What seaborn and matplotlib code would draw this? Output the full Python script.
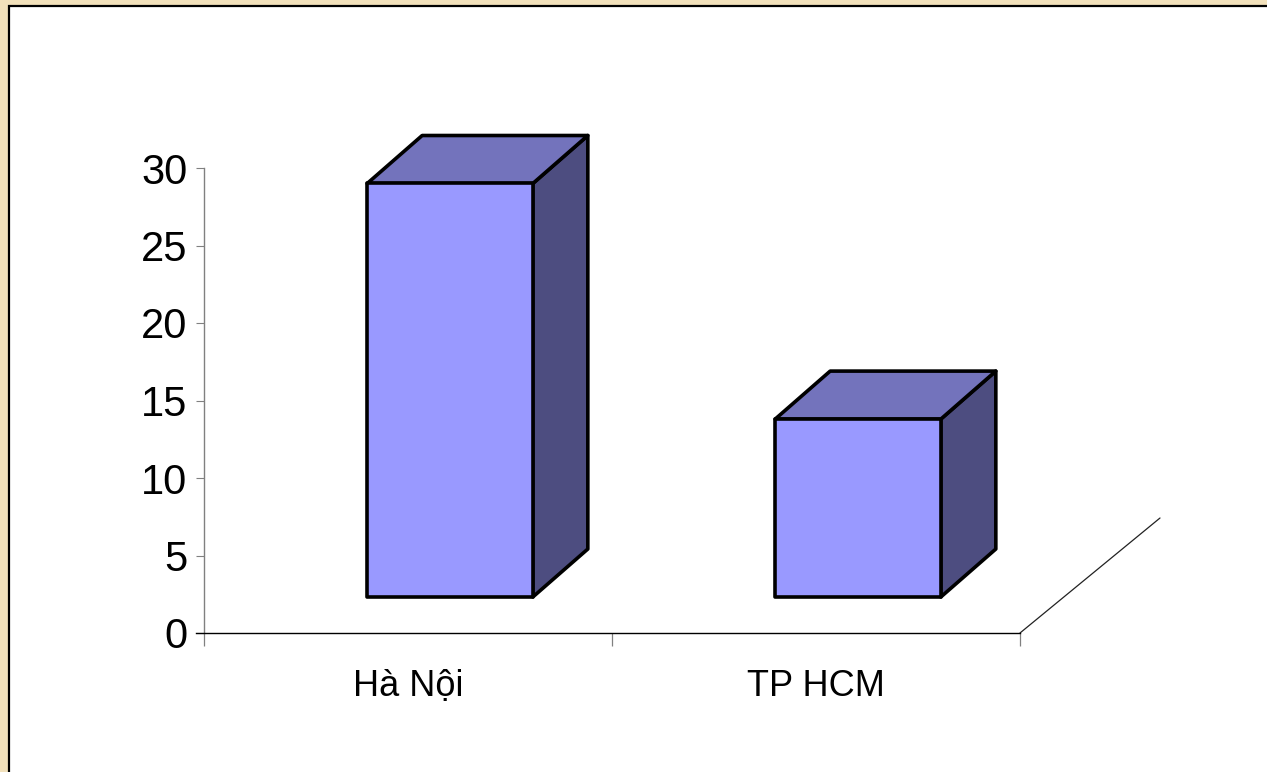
import matplotlib
matplotlib.use("Agg")
import matplotlib.pyplot as plt
from matplotlib.patches import Polygon, Rectangle
import seaborn as sns

# --------------------------
# Data
# --------------------------
cities = ["Hà Nội", "TP HCM"]
values = [29, 13.8]
y_ticks = [0, 5, 10, 15, 20, 25, 30]

sns.set_theme(style="white")
plt.rcParams["font.family"] = ["Liberation Sans", "DejaVu Sans"]
plt.rcParams["text.color"] = "black"
plt.rcParams["xtick.color"] = "black"
plt.rcParams["ytick.color"] = "black"

W, H = 1267, 772
fig = plt.figure(figsize=(W / 100, H / 100), dpi=100)
fig.patch.set_facecolor("#F2E1BB")

# white slide panel with black border on left/top
fig.add_artist(Rectangle((9 / W, -0.05), 1.1, (H - 6) / H + 0.05, transform=fig.transFigure,
                         facecolor="white", edgecolor="black", linewidth=1.6, zorder=0))

# axes placed so that x: 204..1020 px, y: 633 (0) .. 168 (30) px
ax = fig.add_axes([204 / W, (H - 633) / H, (1020 - 204) / W, (633 - 168) / H])
ax.set_facecolor("none")

front = "#9999FF"
top_c = "#7373BC"
side_c = "#4D4D80"
lw = 2.6

sns.barplot(x=cities, y=values, ax=ax, width=0.406, color=front, saturation=1,
            edgecolor="black", linewidth=lw, zorder=3)

ax.set_xlim(-0.5, 1.5)
ax.set_ylim(0, 30)

# 3D look: depth offsets in data units
px_x = 2 / 816
px_y = 30 / 465
dx = 55 * px_x
dy = 48 * px_y
base = 36 * px_y      # bars stand back from the front floor edge
shift = 42 * px_x     # front face sits left of the category centre

for p in ax.patches:
    x0 = p.get_x() + shift
    w = p.get_width()
    h = p.get_height()
    p.set_x(x0)
    p.set_y(base)
    p.set_height(h - base)
    p.set_joinstyle("round")
    x1 = x0 + w
    top = [(x0, h), (x1, h), (x1 + dx, h + dy), (x0 + dx, h + dy)]
    side = [(x1, base), (x1 + dx, base + dy), (x1 + dx, h + dy), (x1, h)]
    ax.add_patch(Polygon(side, closed=True, facecolor=side_c, edgecolor="black",
                         linewidth=lw, joinstyle="round", clip_on=False, zorder=2))
    ax.add_patch(Polygon(top, closed=True, facecolor=top_c, edgecolor="black",
                         linewidth=lw, joinstyle="round", clip_on=False, zorder=2))

# floor edge going back on the right
ax.plot([1.5, 1.5 + 140 * px_x], [0, 115 * px_y], color="#222222", linewidth=0.9,
        clip_on=False, zorder=1)

for s in ["top", "right"]:
    ax.spines[s].set_visible(False)
ax.spines["left"].set_color("#808080")
ax.spines["left"].set_linewidth(1.0)
ax.spines["bottom"].set_color("black")
ax.spines["bottom"].set_linewidth(1.0)
ax.spines["bottom"].set_bounds(-0.5 - 8 * px_x, 1.5)

ax.set_yticks(y_ticks)
ax.set_yticklabels([str(t) for t in y_ticks], fontsize=30)
ax.tick_params(axis="y", length=6, width=0.8, color="#808080", labelcolor="black",
               direction="out", pad=6, left=True)

ax.set_xticks([0, 1])
ax.set_xticklabels(cities, fontsize=26)
ax.set_xticks([-0.5, 0.5, 1.5], minor=True)
ax.tick_params(axis="x", which="major", length=0, pad=26, labelcolor="black")
ax.tick_params(axis="x", which="minor", length=9, width=0.9, color="#808080",
               direction="out", bottom=True)
ax.set_xlabel("")
ax.set_ylabel("")

fig.savefig("out.png", dpi=100, facecolor=fig.get_facecolor())
